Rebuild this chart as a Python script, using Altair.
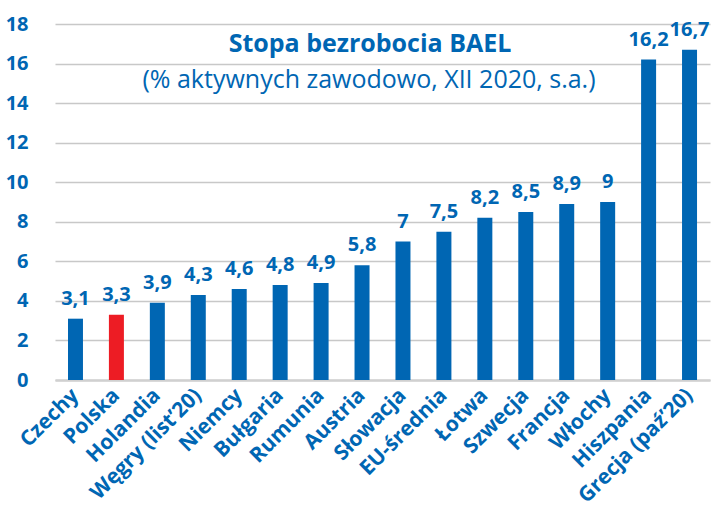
import altair as alt
import pandas as pd

countries = ["Czechy", "Polska", "Holandia", "Węgry (list’20)", "Niemcy", "Bułgaria",
             "Rumunia", "Austria", "Słowacja", "EU-średnia", "Łotwa", "Szwecja",
             "Francja", "Włochy", "Hiszpania", "Grecja (paź’20)"]
values = [3.1, 3.3, 3.9, 4.3, 4.6, 4.8, 4.9, 5.8, 7, 7.5, 8.2, 8.5, 8.9, 9, 16.2, 16.7]
highlight = ["Polska"]
y_ticks = [0, 2, 4, 6, 8, 10, 12, 14, 16, 18]

BLUE = "#0066b3"
RED = "#ed1c24"
FONT = "Open Sans"

df = pd.DataFrame({
    "kraj": countries,
    "wartosc": values,
    "etykieta": [str(v).replace(".", ",") for v in values],
    "kolor": [RED if c in highlight else BLUE for c in countries],
})

x = alt.X("kraj:N", sort=countries, title=None,
          scale=alt.Scale(paddingInner=0.63, paddingOuter=0.315),
          axis=alt.Axis(labelAngle=-45, labelAlign="right", labelBaseline="middle",
                        labelFontSize=21, labelFontWeight="bold",
                        labelColor=BLUE, labelFont=FONT, ticks=False,
                        domainColor="#d0d0d0", domainWidth=2.5, labelPadding=12,
                        labelOverlap=False, labelBound=False))
y = alt.Y("wartosc:Q", title=None,
          scale=alt.Scale(domain=[0, 18], nice=False, zero=True),
          axis=alt.Axis(values=y_ticks, labelFontSize=20, labelFontWeight="bold",
                        labelColor=BLUE, labelFont=FONT, ticks=False, domain=False,
                        grid=True, gridColor="#c8c8c8", gridWidth=1.5, labelPadding=27,
                        labelOverlap=False, labelFlush=False, labelBound=False))

base = alt.Chart(df)
bars = base.mark_bar(size=15).encode(x=x, y=y, color=alt.Color("kolor:N", scale=None))
labels = base.mark_text(dy=-14, baseline="alphabetic", fontSize=20, fontWeight="bold",
                        color=BLUE, font=FONT).encode(x=x, y=y, text="etykieta:N")

title_df = pd.DataFrame({"t": ["Stopa bezrobocia BAEL"]})
sub_df = pd.DataFrame({"t": ["(% aktywnych zawodowo, XII 2020, s.a.)"]})
title = alt.Chart(title_df).mark_text(fontSize=25, fontWeight="bold", color=BLUE, font=FONT,
                                      baseline="alphabetic").encode(
    x=alt.value(315), y=alt.value(28), text="t:N")
sub = alt.Chart(sub_df).mark_text(fontSize=25, color=BLUE, font=FONT,
                                  baseline="alphabetic").encode(
    x=alt.value(314), y=alt.value(64), text="t:N")

chart = alt.layer(bars, labels, title, sub).properties(
    width=655, height=356,
    autosize=alt.AutoSizeParams(type="none"),
    padding={"left": 55, "top": 24, "right": 4, "bottom": 127},
).configure_view(stroke=None)

chart.save("out.html", embed_options={"renderer": "svg", "actions": False})
